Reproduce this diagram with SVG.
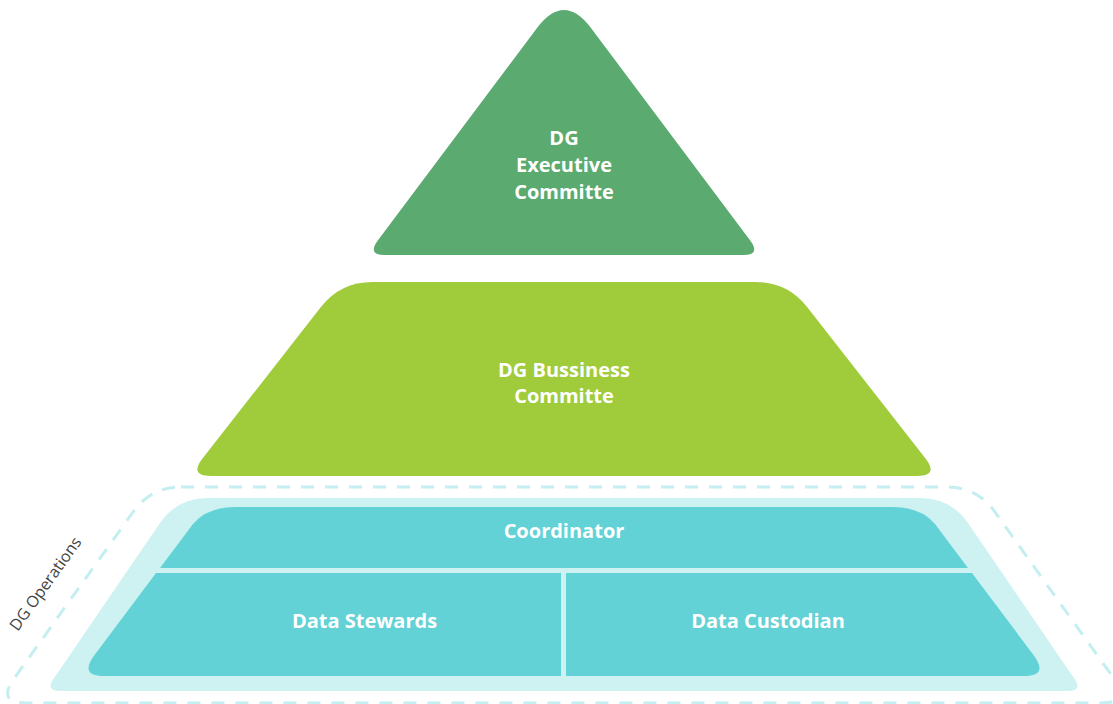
<svg xmlns="http://www.w3.org/2000/svg" width="1113" height="704" viewBox="0 0 1113 704">
<style>
  .lbl { font-family: "Open Sans", "Liberation Sans", sans-serif; font-weight: 700; font-size: 20px; fill: #ffffff; text-anchor: middle; }
  .side { font-family: "Open Sans", "Liberation Sans", sans-serif; font-weight: 400; font-size: 16px; fill: #444444; text-anchor: middle; }
  .band { fill: #CDF2F1; }
  .teal { fill: #62D2D6; }
  .dash { fill: none; stroke: #C4EEF0; stroke-width: 3; stroke-dasharray: 13 11; }
</style>
<rect width="1113" height="704" fill="#ffffff"/>
<g id="dg-operations">
  <path class="dash" d="M 181,487 L 947,487 Q 977,487 994.5,511.4 L 1114,678.6 Q 1131.5,703 1101.5,703 L 26.5,703 Q -3.5,703 14,678.6 L 133.5,511.4 Q 151,487 181,487 Z"/>
  <path class="band" d="M 207.5,498 L 920.5,498 Q 950.5,498 967.7,522.6 L 1074.4,678.7 Q 1083,691 1068,691 L 60,691 Q 45,691 53.6,678.7 L 160.3,522.6 Q 177.5,498 207.5,498 Z"/>
  <text class="side" transform="translate(50,587) rotate(-54.4)">DG Operations</text>
</g>
<g id="dg-executive-committe">
  <path fill="#5BAA70" d="M 537,28 Q 564,-8 591,28 L 750.2,240.6 Q 761,255 743,255 L 385,255 Q 367,255 377.8,240.6 Z"/>
  <text class="lbl" x="564" y="145">DG</text>
  <text class="lbl" x="564" y="172">Executive</text>
  <text class="lbl" x="564" y="199">Committe</text>
</g>
<g id="dg-bussiness-committe">
  <path fill="#A0CB3B" d="M 372.4,282 L 755.6,282 Q 787.6,282 807.3,307.2 L 925.5,458.6 Q 939,476 917,476 L 211,476 Q 189,476 202.5,458.6 L 320.7,307.2 Q 340.4,282 372.4,282 Z"/>
  <text class="lbl" x="564" y="377">DG Bussiness</text>
  <text class="lbl" x="564" y="403">Committe</text>
</g>
<g id="coordinator">
  <path class="teal" d="M 160,568 L 193,524 Q 207,507 236,507 L 892,507 Q 921,507 935,524 L 968,568 Z"/>
  <text class="lbl" x="564" y="538">Coordinator</text>
</g>
<g id="data-stewards">
  <path class="teal" d="M 561,573 L 156,573 L 94.35,655.2 Q 78.75,676 104.75,676 L 561,676 Z"/>
  <text class="lbl" x="364.5" y="628">Data Stewards</text>
</g>
<g id="data-custodian">
  <path class="teal" d="M 566,573 L 972,573 L 1033.65,655.2 Q 1049.25,676 1023.25,676 L 566,676 Z"/>
  <text class="lbl" x="768" y="628">Data Custodian</text>
</g>
<g id="connectors"/>
</svg>
